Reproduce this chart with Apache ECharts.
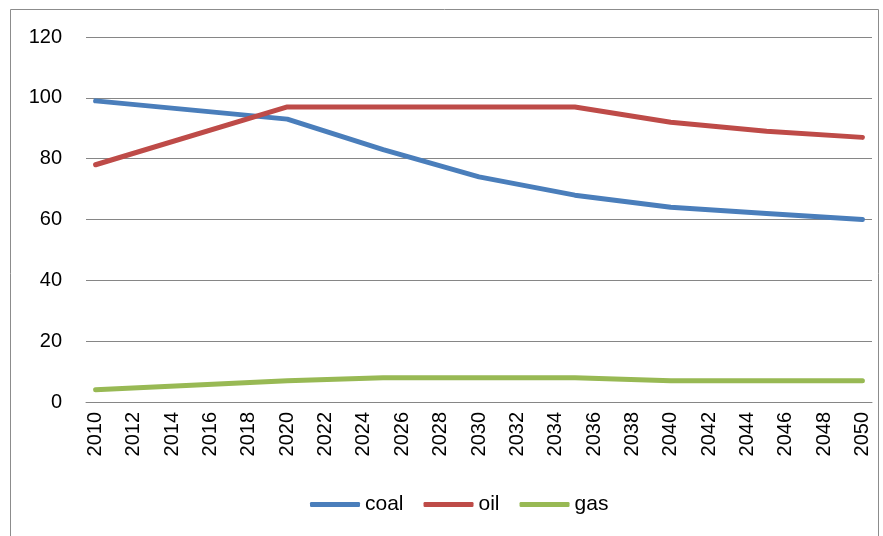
<!DOCTYPE html>
<html>
<head>
<meta charset="utf-8">
<script src="https://cdn.jsdelivr.net/npm/echarts@6/dist/echarts.min.js"></script>
<style>
  html, body { margin: 0; padding: 0; background: #fff; }
  #chart { width: 883px; height: 536px; }
</style>
</head>
<body>
<div id="chart"></div>
<script>
// Year axis: one category per year, labelled every second year
const years = ['2010','2011','2012','2013','2014','2015','2016','2017','2018','2019',
  '2020','2021','2022','2023','2024','2025','2026','2027','2028','2029',
  '2030','2031','2032','2033','2034','2035','2036','2037','2038','2039',
  '2040','2041','2042','2043','2044','2045','2046','2047','2048','2049','2050'];

// Years where each fuel has a value
const pointYears = ['2010','2020','2025','2030','2035','2040','2045','2050'];
const coal = [99, 93, 83, 74, 68, 64, 62, 60];
const oil  = [78, 97, 97, 97, 97, 92, 89, 87];
const gas  = [4, 7, 8, 8, 8, 7, 7, 7];

const yTicks = { min: 0, max: 120, interval: 20 };

const FONT = 'Liberation Sans';
const pairs = vals => pointYears.map((y, i) => [y, vals[i]]);

const chart = echarts.init(document.getElementById('chart'), null, { renderer: 'canvas' });

function lineSeries(name, vals, color) {
  return {
    name: name,
    type: 'line',
    data: pairs(vals),
    showSymbol: false,
    symbol: 'none',
    lineStyle: { width: 5, color: color, cap: 'round', join: 'round' },
    itemStyle: { color: color },
    emphasis: { disabled: true },
    animation: false
  };
}

chart.setOption({
  animation: false,
  backgroundColor: '#ffffff',
  graphic: [{
    type: 'rect',
    shape: { x: 10.5, y: 9.5, width: 868, height: 540 },
    style: { fill: 'none', stroke: '#8c8c8c', lineWidth: 1 },
    silent: true
  }],
  grid: { left: 86, right: 11, top: 37, bottom: 134, containLabel: false },
  legend: {
    bottom: 16,
    left: 305,
    icon: 'roundRect',
    itemWidth: 50,
    itemHeight: 5,
    itemGap: 20,
    textStyle: { fontFamily: FONT, fontSize: 21, color: '#000' },
    data: ['coal', 'oil', 'gas']
  },
  xAxis: {
    type: 'category',
    data: years,
    boundaryGap: true,
    axisLine: { show: true, lineStyle: { color: '#868686', width: 1 } },
    axisTick: { show: false },
    axisLabel: {
      interval: 1,
      rotate: 90,
      margin: 10,
      fontFamily: FONT,
      fontSize: 20,
      color: '#000'
    },
    splitLine: { show: false }
  },
  yAxis: {
    type: 'value',
    min: yTicks.min,
    max: yTicks.max,
    interval: yTicks.interval,
    axisLine: { show: false },
    axisTick: { show: false },
    axisLabel: { margin: 24, fontFamily: FONT, fontSize: 20, color: '#000' },
    splitLine: { show: true, lineStyle: { color: '#868686', width: 1 } }
  },
  series: [
    lineSeries('coal', coal, '#4A7EBB'),
    lineSeries('oil', oil, '#BE4B48'),
    lineSeries('gas', gas, '#98B954')
  ]
});
</script>
</body>
</html>
